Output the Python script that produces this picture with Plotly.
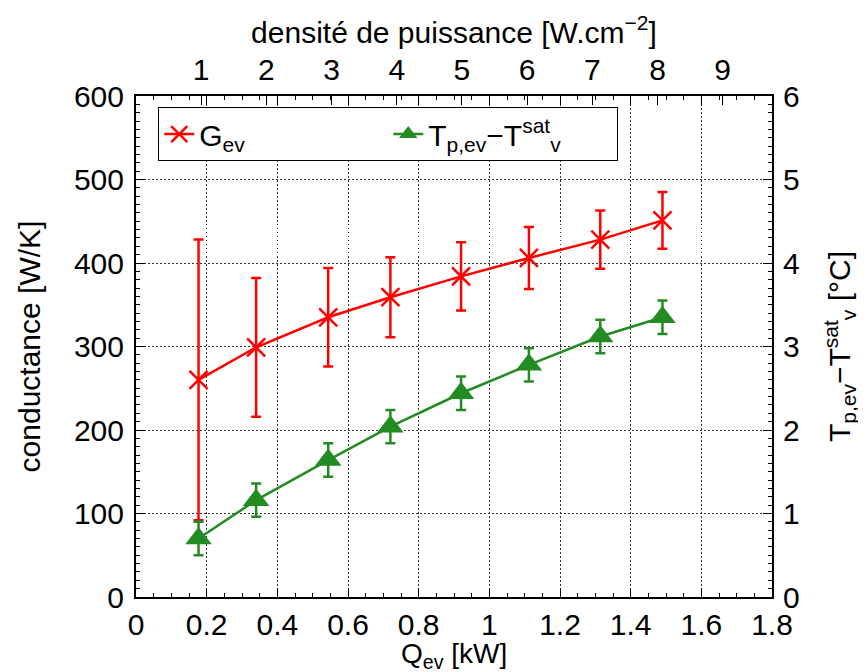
import plotly.graph_objects as go

# data
q_ev = [0.177, 0.34, 0.544, 0.72, 0.92, 1.112, 1.314, 1.49]  # kW
g_ev = [260, 299, 335, 359, 384, 406, 428, 451]  # W/K
g_err = [168, 83, 59, 48, 41, 37, 35, 34]
dt_ev = [0.70, 1.16, 1.64, 2.04, 2.44, 2.78, 3.12, 3.35]  # degC
dt_err = [0.2, 0.2, 0.2, 0.2, 0.2, 0.2, 0.2, 0.2]
density_ticks = [1, 2, 3, 4, 5, 6, 7, 8, 9]  # W/cm2

# 1 W/cm2 of power density corresponds to this many kW
kw_per_density = 0.1845
x_max = 1.8
x2_max = x_max / kw_per_density

RED = "#ff0000"
GREEN = "#228b22"
FONT = "Liberation Sans"
FS = 30


def axis_style(**kw):
    d = dict(
        ticks="inside",
        ticklen=9,
        tickwidth=1,
        tickcolor="black",
        showline=True,
        linecolor="black",
        linewidth=2,
        zeroline=False,
        automargin=False,
        tickfont=dict(family=FONT, size=FS, color="black"),
        ticklabelstandoff=4,
    )
    d.update(kw)
    return d


fig = go.Figure()

fig.add_trace(
    go.Scatter(
        x=q_ev,
        y=g_ev,
        name="G<sub>ev</sub>",
        mode="lines+markers",
        line=dict(color=RED, width=2.5),
        marker=dict(symbol="x-thin", size=18, color=RED, line=dict(width=2.5, color=RED)),
        error_y=dict(type="data", array=g_err, color=RED, thickness=2.5, width=5),
    )
)

fig.add_trace(
    go.Scatter(
        x=q_ev,
        y=dt_ev,
        yaxis="y2",
        name="T<sub>p,ev</sub>−T<sup>sat</sup><sub>v</sub>",
        mode="lines+markers",
        line=dict(color=GREEN, width=2.5),
        marker=dict(symbol="triangle-up", size=23, color=GREEN),
        error_y=dict(type="data", array=dt_err, color=GREEN, thickness=2.5, width=5),
    )
)

# empty trace so the top (power density) axis gets drawn
fig.add_trace(
    go.Scatter(
        x=[0, x2_max],
        y=[None, None],
        xaxis="x2",
        mode="lines",
        showlegend=False,
        hoverinfo="skip",
    )
)

grid = dict(showgrid=True, gridcolor="#333", gridwidth=1, griddash="1.5px,2.5px")

# the page body adds an 8px offset, margins are shifted to compensate
fig.update_layout(
    width=866,
    height=672,
    margin=dict(l=128, r=102, t=88, b=83),
    paper_bgcolor="white",
    plot_bgcolor="white",
    font=dict(family=FONT, size=FS, color="black"),
    showlegend=True,
    legend=dict(
        orientation="h",
        x=0.035,
        y=0.978,
        xanchor="left",
        yanchor="top",
        bgcolor="white",
        bordercolor="black",
        borderwidth=1,
        font=dict(family=FONT, size=FS),
        entrywidth=184,
    ),
    xaxis=axis_style(
        range=[0, x_max],
        dtick=0.2,
        tick0=0,
        mirror="ticks",
        ticklabelstandoff=0,
        minor=dict(dtick=0.05, ticks="inside", ticklen=4, tickcolor="black"),
        **grid,
    ),
    xaxis2=axis_style(
        range=[0, x2_max],
        overlaying="x",
        anchor="y",
        side="top",
        tickvals=density_ticks,
        ticklabelstandoff=9,
        showline=False,
        showgrid=False,
        title=dict(text="densité de puissance [W.cm<sup>−2</sup>]", standoff=0, font=dict(size=FS)),
    ),
    yaxis=axis_style(
        range=[0, 600],
        dtick=100,
        tick0=0,
        mirror=True,
        minor=dict(dtick=10, ticks="inside", ticklen=4, tickcolor="black"),
        title=dict(text="conductance [W/K]", standoff=24, font=dict(size=FS)),
        **grid,
    ),
    yaxis2=axis_style(
        range=[0, 6],
        dtick=1,
        tick0=0,
        overlaying="y",
        side="right",
        showline=False,
        showgrid=False,
        ticklabelstandoff=10,
        minor=dict(dtick=0.1, ticks="inside", ticklen=4, tickcolor="black"),
        title=dict(
            text="T<sub>p,ev</sub>−T<sup>sat</sup><sub>v</sub> [°C]",
            standoff=30,
            font=dict(size=FS),
        ),
    ),
)

# bottom axis title as an annotation so it sits tight under the tick labels
fig.add_annotation(
    text="Q<sub>ev</sub> [kW]",
    xref="paper",
    yref="paper",
    x=0.5,
    y=0,
    xanchor="center",
    yanchor="top",
    yshift=-39,
    showarrow=False,
    font=dict(family=FONT, size=28, color="black"),
)

fig.write_html("out.html")
